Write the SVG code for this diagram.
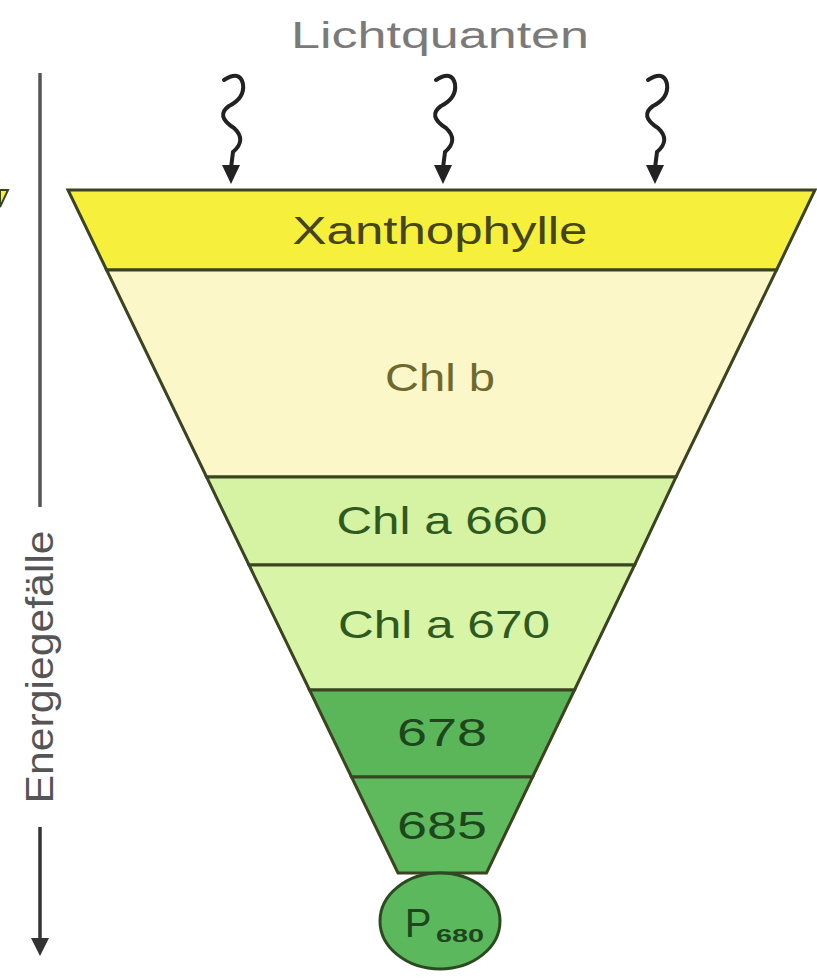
<svg xmlns="http://www.w3.org/2000/svg" width="817" height="980" viewBox="0 0 817 980">
<style>
.t{font-family:"Liberation Sans",Arial,sans-serif;text-anchor:middle}
.sep{stroke:#3a4420;stroke-width:3;stroke-linejoin:miter}
.wave{stroke:#222;stroke-width:4;fill:none;stroke-linecap:round}
</style>
<rect width="817" height="980" fill="#ffffff"/>
<polygon points="0,190 8,190 0,207" fill="#f6f03c" stroke="#3a4420" stroke-width="2"/>
<g id="connectors">
<path class="wave" d="M224,80 Q240,70 243,84 Q245,98 229,106 Q215,116 234,128 Q247,140 233,152 L231,168"/>
<polygon points="222,165 240,165 231,184" fill="#222"/>
<path class="wave" d="M436,80 Q452,70 455,84 Q457,98 441,106 Q427,116 446,128 Q459,140 445,152 L443,168"/>
<polygon points="434,165 452,165 443,184" fill="#222"/>
<path class="wave" d="M648,80 Q664,70 667,84 Q669,98 653,106 Q639,116 658,128 Q671,140 657,152 L655,168"/>
<polygon points="646,165 664,165 655,184" fill="#222"/>
<line x1="40" y1="73" x2="40" y2="507" stroke="#555" stroke-width="3.5"/>
<line x1="40" y1="827" x2="40" y2="940" stroke="#333" stroke-width="3.5"/>
<polygon points="31,938 49,938 40,956" fill="#333"/>
</g>
<g id="lichtquanten">
<text class="t" x="440" y="48" font-size="36" fill="#7a7a7a" textLength="298" lengthAdjust="spacingAndGlyphs">Lichtquanten</text>
</g>
<g id="energie">
<text class="t" transform="translate(53,667) rotate(-90)" font-size="38" fill="#555" textLength="273" lengthAdjust="spacingAndGlyphs">Energiegefälle</text>
</g>
<g id="xanthophylle">
<polygon points="68,190 815,190 776.5,270 106.6,270" fill="#f6f03c" class="sep"/>
<text class="t" x="440" y="244" font-size="38" fill="#45441a" textLength="295" lengthAdjust="spacingAndGlyphs">Xanthophylle</text>
</g>
<g id="chlb">
<polygon points="106.6,270 776.5,270 676,477 206.6,477" fill="#fcf7c8" class="sep"/>
<text class="t" x="440" y="391" font-size="38" fill="#6e6a2e" textLength="110" lengthAdjust="spacingAndGlyphs">Chl b</text>
</g>
<g id="chla660">
<polygon points="206.6,477 676,477 634.6,565 249,565" fill="#d6f3a3" class="sep"/>
<text class="t" x="442" y="534" font-size="38" fill="#2e5a20" textLength="211" lengthAdjust="spacingAndGlyphs">Chl a 660</text>
</g>
<g id="chla670">
<polygon points="249,565 634.6,565 574.5,690 309.5,690" fill="#d8f4a6" class="sep"/>
<text class="t" x="444" y="638" font-size="38" fill="#2e5a20" textLength="212" lengthAdjust="spacingAndGlyphs">Chl a 670</text>
</g>
<g id="n678">
<polygon points="309.5,690 574.5,690 532.6,777 351.5,777" fill="#5bb65a" class="sep" stroke="#2c4a22"/>
<text class="t" x="442" y="746" font-size="38" fill="#1d461d" textLength="90" lengthAdjust="spacingAndGlyphs">678</text>
</g>
<g id="n685">
<polygon points="351.5,777 532.6,777 486.5,873 398,873" fill="#5fba5e" class="sep" stroke="#2c4a22"/>
<text class="t" x="442" y="839" font-size="38" fill="#1d461d" textLength="90" lengthAdjust="spacingAndGlyphs">685</text>
</g>
<g id="p680">
<ellipse cx="440" cy="921" rx="60" ry="48" fill="#5cb85c" stroke="#2c4a22" stroke-width="3"/>
<text class="t" x="418" y="937" font-size="40" fill="#1d461d">P</text>
<text class="t" x="460" y="942" font-size="18" font-weight="bold" fill="#1d461d" textLength="48" lengthAdjust="spacingAndGlyphs">680</text>
</g>
</svg>
